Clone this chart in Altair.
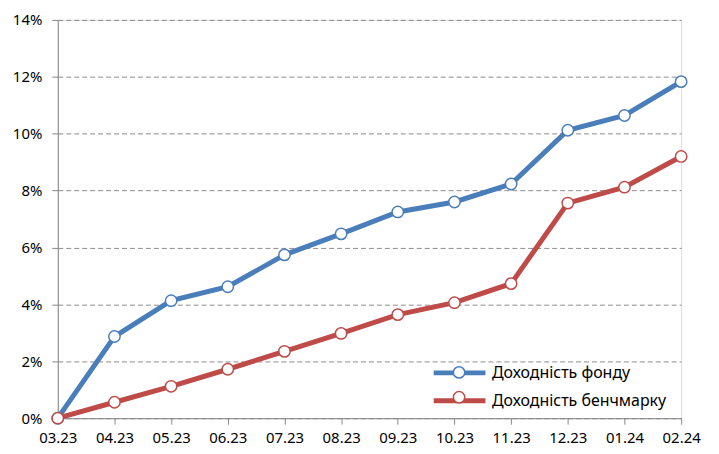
import altair as alt
import pandas as pd

months = ["03.23", "04.23", "05.23", "06.23", "07.23", "08.23",
          "09.23", "10.23", "11.23", "12.23", "01.24", "02.24"]
fund = [0.0, 2.87, 4.13, 4.62, 5.74, 6.48, 7.25, 7.60, 8.23, 10.12, 10.64, 11.83]
bench = [0.0, 0.56, 1.12, 1.72, 2.35, 2.98, 3.64, 4.06, 4.73, 7.56, 8.12, 9.20]
series_names = ["Доходність фонду", "Доходність бенчмарку"]
colors = ["#4A7EBB", "#BE4B48"]
y_ticks = [0, 0.02, 0.04, 0.06, 0.08, 0.10, 0.12, 0.14]

rows = []
for m, v in zip(months, fund):
    rows.append({"month": m, "series": series_names[0], "value": v / 100})
for m, v in zip(months, bench):
    rows.append({"month": m, "series": series_names[1], "value": v / 100})
df = pd.DataFrame(rows)

FONT = "Noto Sans"

x_enc = alt.X("month:O", sort=months, title=None,
              scale=alt.Scale(type="point", padding=0),
              axis=alt.Axis(labelAngle=0, grid=False, tickSize=6, labelPadding=6,
                            labelFontSize=15, labelFont=FONT, labelColor="#000000",
                            domainColor="#868686", tickColor="#868686"))
y_enc = alt.Y("value:Q", title=None,
              scale=alt.Scale(domain=[0, 0.14], nice=False),
              axis=alt.Axis(values=y_ticks, format=".0%", tickSize=6, labelPadding=10,
                            labelFontSize=15, labelFont=FONT, labelColor="#000000",
                            domainColor="#868686", tickColor="#868686",
                            grid=True, gridColor="#8c8c8c", gridDash=[5, 3], gridWidth=1))

color_scale = alt.Scale(domain=series_names, range=colors)

LX = 395
LY = 346
SYM = 130
common = dict(title=None, orient="none", legendX=LX, legendY=LY,
              symbolSize=SYM, labelFontSize=16, labelFont=FONT, labelLimit=0,
              rowPadding=7, padding=0)

lines = alt.Chart(df).mark_line(strokeWidth=5).encode(
    x=x_enc, y=y_enc,
    stroke=alt.Stroke("series:N", scale=color_scale, sort=series_names,
                      legend=alt.Legend(symbolType="M-4.56,0H4.56",
                                        symbolStrokeWidth=5, labelColor="#000000",
                                        labelOffset=24, **common)),
)

points = alt.Chart(df).mark_point(shape="circle", filled=False, fill="white",
                                  fillOpacity=1, opacity=1, size=SYM,
                                  strokeWidth=1.5).encode(
    x=x_enc, y=y_enc,
    stroke=alt.Stroke("series:N", scale=color_scale, sort=series_names,
                      legend=alt.Legend(symbolType="circle", symbolFillColor="white",
                                        symbolStrokeWidth=1.5, labelOpacity=0,
                                        labelExpr="''",
                                        labelOffset=24, **common)),
)

chart = alt.layer(lines, points).resolve_legend(stroke="independent").properties(
    width=626, height=400,
    autosize=alt.AutoSizeParams(type="none"),
    padding={"left": 50, "top": 11, "right": 30, "bottom": 30},
).configure_view(stroke=None).configure(background="white")

chart.save("out.html", embed_options={"renderer": "svg", "actions": False})
